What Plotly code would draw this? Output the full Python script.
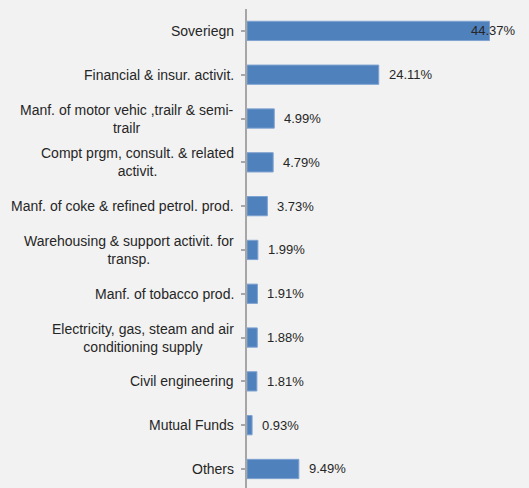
import plotly.graph_objects as go

categories = [
    "Soveriegn",
    "Financial & insur. activit.",
    "Manf. of motor vehic ,trailr & semi-<br>trailr",
    "Compt prgm, consult. & related<br>activit.",
    "Manf. of coke & refined petrol. prod.",
    "Warehousing & support activit. for<br>transp.",
    "Manf. of tobacco prod.",
    "Electricity, gas, steam and air<br>conditioning supply",
    "Civil engineering",
    "Mutual Funds",
    "Others",
]
values = [44.37, 24.11, 4.99, 4.79, 3.73, 1.99, 1.91, 1.88, 1.81, 0.93, 9.49]
value_labels = ["44.37%", "24.11%", "4.99%", "4.79%", "3.73%", "1.99%",
                "1.91%", "1.88%", "1.81%", "0.93%", "9.49%"]

FONT = "Liberation Sans"
TXT = "#262626"
XMAX = 51.6

fig = go.Figure()
fig.add_trace(go.Bar(
    y=list(range(len(categories))),
    x=values,
    orientation="h",
    width=0.44,
    marker=dict(color="#4F81BD", line=dict(color="#7FA3D0", width=1)),
    hoverinfo="skip",
))

ann = []
for i, (c, v, lab) in enumerate(zip(categories, values, value_labels)):
    ann.append(dict(xref="paper", yref="y", x=0, y=i, text=c, showarrow=False,
                    xanchor="right", yanchor="middle", align="center", xshift=-11,
                    font=dict(family=FONT, size=14, color=TXT)))
    if v / XMAX > 0.8:
        ann.append(dict(xref="paper", yref="y", x=1, y=i, text=lab, showarrow=False,
                        xanchor="right", yanchor="middle", xshift=-11,
                        font=dict(family=FONT, size=13, color=TXT)))
    else:
        ann.append(dict(xref="x", yref="y", x=v, y=i, text=lab, showarrow=False,
                        xanchor="left", yanchor="middle", xshift=8,
                        font=dict(family=FONT, size=13, color=TXT)))

fig.update_layout(
    width=529, height=488,
    margin=dict(l=247, r=0, t=9, b=0),
    paper_bgcolor="#F2F2F2", plot_bgcolor="#F2F2F2",
    showlegend=False,
    bargap=0.56,
    annotations=ann,
    xaxis=dict(range=[0, XMAX], visible=False, fixedrange=True),
    yaxis=dict(
        range=[10.434, -0.5],
        tickmode="array",
        tickvals=list(range(len(categories))),
        ticktext=[""] * len(categories),
        showticklabels=False,
        tickson="boundaries",
        ticks="outside", ticklen=4, tickwidth=2, tickcolor="#A6A6A6",
        showline=True, linecolor="#A6A6A6", linewidth=2,
        showgrid=False, zeroline=False,
    ),
)

fig.write_html("out.html")
